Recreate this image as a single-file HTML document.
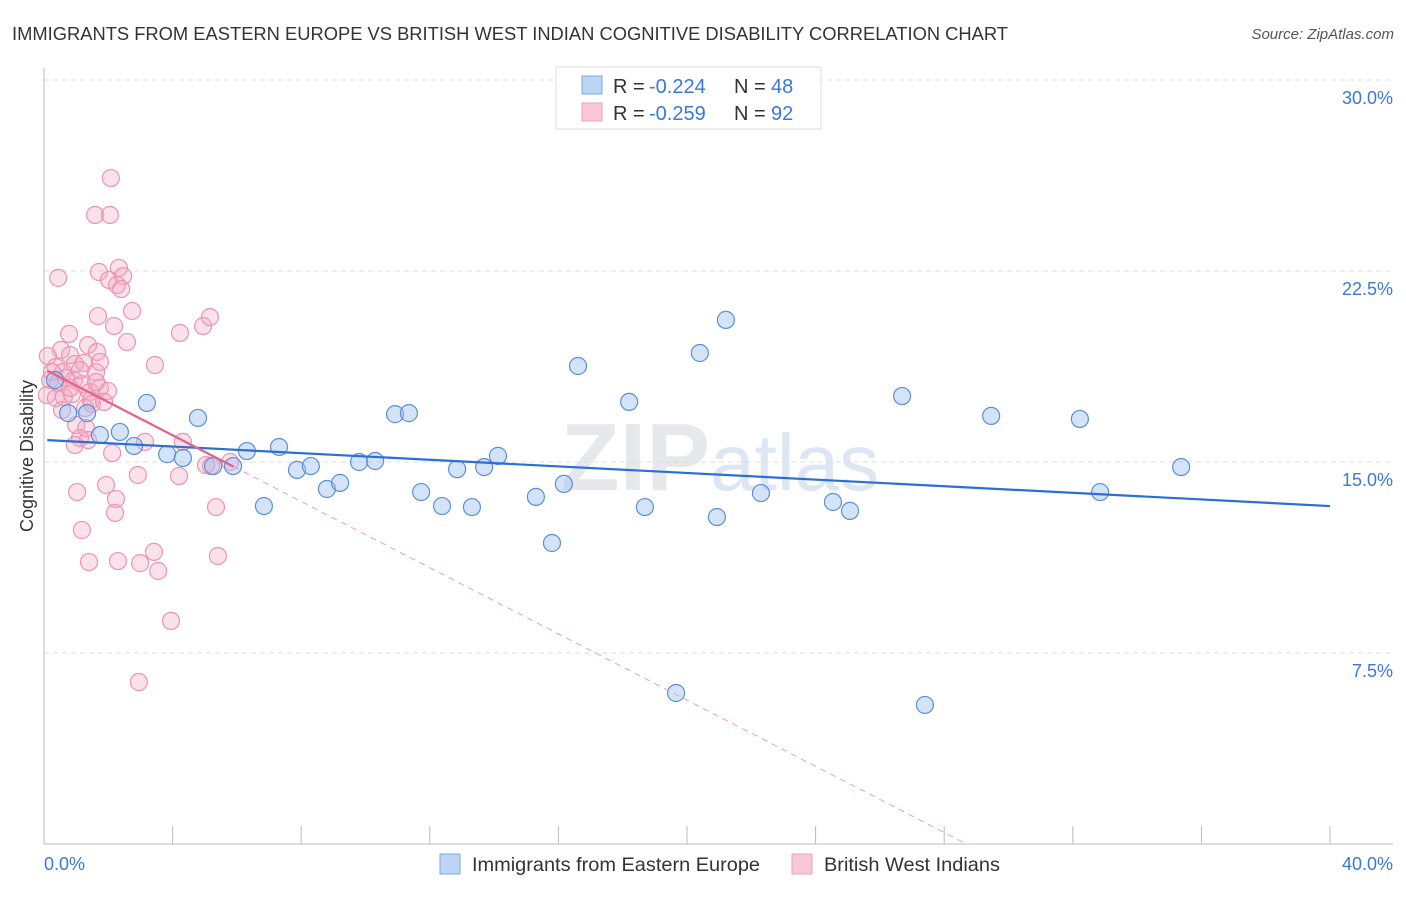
<!DOCTYPE html>
<html><head><meta charset="utf-8"><style>
body{margin:0;background:#fff;font-family:"Liberation Sans",sans-serif}
svg text{font-family:"Liberation Sans",sans-serif}
</style></head><body>
<svg width="1406" height="892" viewBox="0 0 1406 892" id="chart">
<text x="12" y="40" font-size="18" fill="#333" textLength="996" lengthAdjust="spacingAndGlyphs">IMMIGRANTS FROM EASTERN EUROPE VS BRITISH WEST INDIAN COGNITIVE DISABILITY CORRELATION CHART</text>
<text x="1394" y="39" font-size="15" fill="#555" text-anchor="end" font-style="italic">Source: ZipAtlas.com</text>
<text x="720" y="490" font-size="96" fill="#e6e8ec" text-anchor="middle" font-family="Liberation Serif"><tspan font-weight="bold">ZIP</tspan><tspan font-size="80" fill="#dde6f3">atlas</tspan></text>
<g id="grid"></g>
<g id="axes"></g>
<g id="marks"></g>
<text transform="translate(33,456) rotate(-90)" font-size="18" fill="#333" text-anchor="middle">Cognitive Disability</text>
<g>
<rect x="556" y="67" width="265" height="62" fill="#fff" stroke="#ddd"/>
<rect x="582" y="76" width="20" height="18" fill="#bcd4f5" stroke="#7fa8e0"/>
<text x="613" y="93" font-size="20" fill="#333">R =</text>
<text x="649" y="93" font-size="20" fill="#3b78d8">-0.224</text>
<text x="734" y="93" font-size="20" fill="#333">N =</text>
<text x="771" y="93" font-size="20" fill="#3b78d8">48</text>
<rect x="582" y="103" width="20" height="18" fill="#f9c8d8" stroke="#eca0ba"/>
<text x="613" y="120" font-size="20" fill="#333">R =</text>
<text x="649" y="120" font-size="20" fill="#3b78d8">-0.259</text>
<text x="734" y="120" font-size="20" fill="#333">N =</text>
<text x="771" y="120" font-size="20" fill="#3b78d8">92</text>
</g>
<g>
<rect x="440" y="854" width="20" height="20" fill="#bcd4f5" stroke="#7fa8e0"/>
<text x="472" y="871" font-size="19.5" fill="#333" textLength="288" lengthAdjust="spacingAndGlyphs">Immigrants from Eastern Europe</text>
<rect x="792" y="854" width="20" height="20" fill="#f9c8d8" stroke="#eca0ba"/>
<text x="824" y="871" font-size="19.5" fill="#333" textLength="176" lengthAdjust="spacingAndGlyphs">British West Indians</text>
</g>
</svg>
<script>
const blueX=[0.75,1.34,1.74,2.36,2.80,3.20,3.83,4.32,4.79,5.26,5.88,6.31,6.84,7.31,7.87,8.30,8.80,9.21,9.80,10.30,10.92,11.35,11.73,12.38,12.85,13.31,13.69,14.12,15.30,15.80,16.17,16.61,18.20,18.69,19.66,20.40,20.93,21.21,22.30,24.54,25.07,26.69,27.40,29.46,32.22,32.85,35.37,0.34];
const blueY=[16.92,16.92,16.06,16.18,15.63,17.32,15.31,15.16,16.73,14.84,14.84,15.43,13.27,15.59,14.69,14.84,13.94,14.18,15.0,15.04,16.88,16.92,13.82,13.27,14.72,13.23,14.80,15.24,13.63,11.82,14.14,18.77,17.36,13.23,5.93,19.28,12.84,20.58,13.78,13.43,13.08,17.59,5.46,16.81,16.69,13.82,14.80,18.22];
const pinkX=[2.08,1.59,2.05,0.44,1.71,2.33,2.02,2.46,2.27,2.40,1.68,2.18,2.74,2.58,4.23,4.95,5.16,0.78,0.53,1.37,0.81,1.65,3.45,0.12,0.37,0.59,0.96,1.24,1.62,0.19,0.44,0.68,0.93,1.18,1.43,1.74,1.99,0.09,0.37,0.62,0.87,1.46,0.56,1.28,1.49,1.00,1.31,1.12,0.96,1.37,2.12,3.14,4.32,5.19,2.92,5.04,5.79,4.20,1.03,1.93,2.24,2.21,5.35,1.18,1.40,2.30,3.42,2.99,3.55,5.41,3.95,2.95,0.25,1.74,1.12,0.81,1.62,1.87];
const pinkY=[26.15,24.70,24.70,22.23,22.46,22.62,22.15,22.30,21.95,21.79,20.73,20.34,20.93,19.71,20.07,20.34,20.69,20.03,19.40,19.59,19.20,19.32,18.81,19.16,18.73,18.53,18.85,18.89,18.53,18.22,18.10,18.30,18.22,18.06,17.75,17.91,17.79,17.63,17.51,17.55,17.67,17.43,17.04,17.12,17.28,16.45,16.33,15.94,15.67,15.86,15.35,15.79,15.79,14.84,14.49,14.88,15.0,14.45,13.82,14.10,13.55,13.00,13.23,12.33,11.07,11.11,11.47,11.03,10.72,11.31,8.76,6.36,18.53,18.93,18.61,17.91,18.14,17.36];
const yTicks=[7.5,15,22.5,30];
const yTickLabels=["7.5%","15.0%","22.5%","30.0%"];
const blueTrend=[15.86,13.27];
const pinkTrend=[18.65,-0.65];
const pinkSolidEnd=5.9;

const NS="http://www.w3.org/2000/svg";
const X0=44,X1=1330,Y0=844,YTOP=80;
const xs=v=>X0+(v/40)*(X1-X0);
const ys=v=>Y0-(v/30)*(Y0-YTOP);
function mk(tag,attrs,parent){const e=document.createElementNS(NS,tag);for(const k in attrs)e.setAttribute(k,attrs[k]);parent.appendChild(e);return e;}
const grid=document.getElementById('grid'),axes=document.getElementById('axes'),marks=document.getElementById('marks');
yTicks.forEach((t,i)=>{
 const l=mk('line',{x1:X0,x2:1393,y1:ys(t),y2:ys(t),stroke:'#ddd','stroke-dasharray':'5,4'},grid);
 
 
 const tx=mk('text',{x:1393,y:ys(t)+24,'font-size':18,fill:'#3b78d8','text-anchor':'end'},axes);
 tx.textContent=yTickLabels[i];
 
 
});
const ya=mk('line',{x1:X0,x2:X0,y1:68,y2:Y0,stroke:'#bbb'},axes);


const xa=mk('line',{x1:X0,x2:1393,y1:Y0,y2:Y0,stroke:'#bbb'},axes);


for(let i=0;i<=10;i++){
 const tk=mk('line',{x1:xs(i*4),x2:xs(i*4),y1:826,y2:Y0,stroke:'#bbb'},axes);
 
 
}
[['0.0%',X0,'start'],['40.0%',1393,'end']].forEach(a=>{
 const t=mk('text',{x:a[1],y:870,'font-size':18,fill:'#3b78d8','text-anchor':a[2]},axes);
 t.textContent=a[0];
 
 
});
pinkX.forEach((v,i)=>{
 const c=mk('circle',{cx:xs(v),cy:ys(pinkY[i]),r:8.5,fill:'rgba(244,168,194,0.35)',stroke:'#ec94b2','stroke-width':1.2},marks);
 
 
});
blueX.forEach((v,i)=>{
 const c=mk('circle',{cx:xs(v),cy:ys(blueY[i]),r:8.5,fill:'rgba(160,196,240,0.45)',stroke:'#5b8fd8','stroke-width':1.2},marks);
 
 
});
const bl=mk('line',{x1:xs(0.1),y1:ys(blueTrend[0]),x2:xs(40),y2:ys(blueTrend[1]),stroke:'#2a6fd6','stroke-width':2.2},marks);


const pz=-pinkTrend[0]/pinkTrend[1];
const pd=mk('line',{x1:xs(pinkSolidEnd),y1:ys(pinkTrend[0]+pinkTrend[1]*pinkSolidEnd),x2:xs(pz),y2:ys(0),stroke:'#e8a0b8','stroke-width':1,'stroke-dasharray':'6,5'},marks);


const ps=mk('line',{x1:xs(0.1),y1:ys(pinkTrend[0]+pinkTrend[1]*0.1),x2:xs(pinkSolidEnd),y2:ys(pinkTrend[0]+pinkTrend[1]*pinkSolidEnd),stroke:'#e8608a','stroke-width':2.2},marks);


</script>
</body></html>
